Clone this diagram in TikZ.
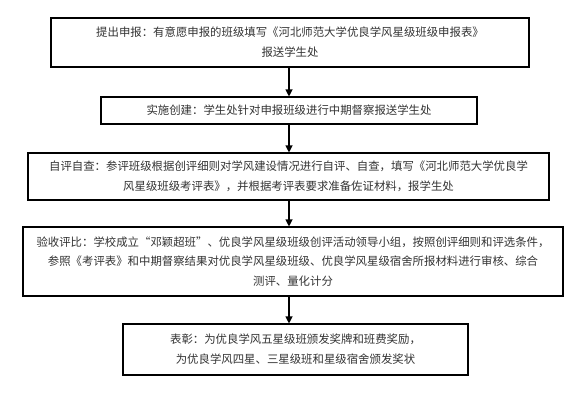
\documentclass[tikz,border=0pt]{standalone}
\usepackage{fontspec}
\setmainfont{Noto Sans CJK SC}
\usetikzlibrary{arrows.meta}
\begin{document}
\begin{tikzpicture}[x=1pt,y=-1pt,
  stepbox/.style={draw=black,line width=1.1pt,rectangle,inner sep=0pt,align=center,
    font=\fontsize{11.4}{19.8}\selectfont,text=black!80},
  conn/.style={line width=1.1pt,-{Triangle[width=7pt,length=7pt]}}]
\useasboundingbox[fill=white] (0,0) rectangle (586,397);
\coordinate (col) at (289,0);
\node[stepbox,minimum width=478pt,minimum height=49pt] (b1) at (290,42.5)
  {提出申报：有意愿申报的班级填写《河北师范大学优良学风星级班级申报表》\\报送学生处};
\node[stepbox,minimum width=376pt,minimum height=27pt] (b2) at (289,110.5)
  {实施创建：学生处针对申报班级进行中期督察报送学生处};
\node[stepbox,minimum width=521pt,minimum height=47pt] (b3) at (288.5,176.5)
  {自评自查：参评班级根据创评细则对学风建设情况进行自评、自查，填写《河北师范大学优良学\\风星级班级考评表》，并根据考评表要求准备佐证材料，报学生处};
\node[stepbox,minimum width=540pt,minimum height=69pt] (b4) at (293,261.5)
  {验收评比：学校成立“邓颖超班”、优良学风星级班级创评活动领导小组，按照创评细则和评选条件，\\参照《考评表》和中期督察结果对优良学风星级班级、优良学风星级宿舍所报材料进行审核、综合\\测评、量化计分};
\node[stepbox,minimum width=345pt,minimum height=51pt] (b5) at (295.5,349.5)
  {表彰：为优良学风五星级班颁发奖牌和班费奖励，\\为优良学风四星、三星级班和星级宿舍颁发奖状};
\draw[conn] (b1.south -| col) -- (b2.north -| col);
\draw[conn] (b2.south -| col) -- (b3.north -| col);
\draw[conn] (b3.south -| col) -- (b4.north -| col);
\draw[conn] (b4.south -| col) -- (b5.north -| col);
\end{tikzpicture}
\end{document}
